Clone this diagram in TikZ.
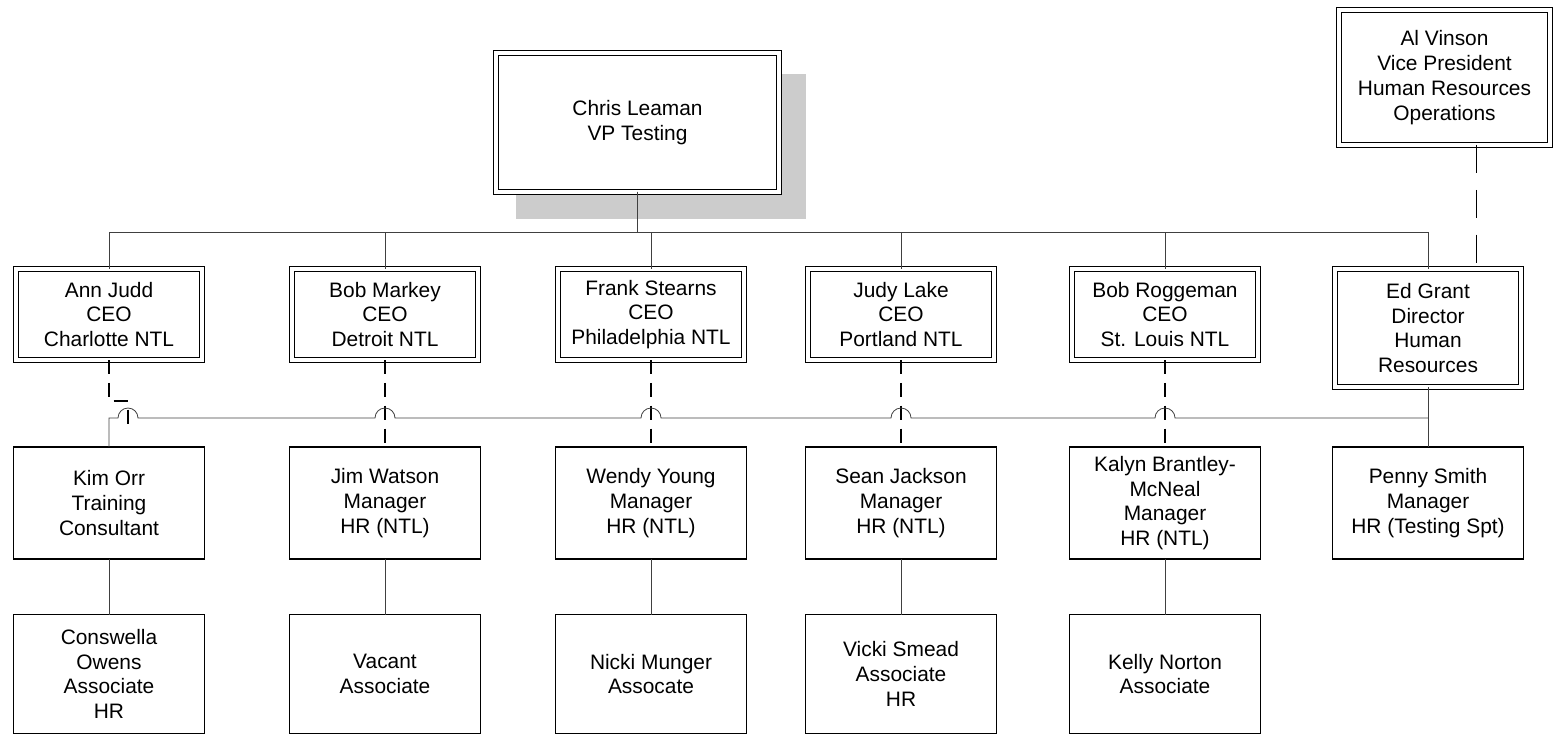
\documentclass[tikz,border=0pt]{standalone}
\usepackage{fontspec}
\setmainfont{Liberation Sans}
\usetikzlibrary{calc,backgrounds}
\tikzset{
	orgbox/.style={draw, line width=0.75pt, align=center, inner sep=2pt, outer sep=0pt,
		font=\fontsize{11.9}{14.1}\selectfont},
	headbox/.style={orgbox, double, line width=0.8pt, double distance=1.8pt},
	ceobox/.style={headbox, minimum width=3.72cm, minimum height=1.82cm},
	hrbox/.style={orgbox, minimum width=3.82cm, minimum height=2.24cm},
	staffbox/.style={orgbox, minimum width=3.82cm, minimum height=2.38cm},
	orgline/.style={draw=black!75, line width=0.45pt},
	ceoline/.style={draw=black, line width=0.8pt, dash pattern=on 8pt off 5pt},
	vpline/.style={draw=black, line width=0.75pt, dash pattern=on 16pt off 9.5pt}
}

\begin{document}
\begin{tikzpicture}[x=0.02cm, y=0.02cm]
	\useasboundingbox (0,0) rectangle (1554,-735);

	\node[headbox, fill=white, minimum width=5.66cm, minimum height=2.78cm] (chris) at (637.5,-122.5) {Chris Leaman\\VP Testing};
	\node[headbox, minimum width=4.22cm, minimum height=2.7cm] (vinson) at (1444.5,-77.5) {Al Vinson\\Vice President\\Human Resources\\Operations};

	\node[ceobox] (ann) at (109,-314.5) {Ann Judd\\CEO\\Charlotte NTL};
	\node[ceobox] (markey) at (385,-314.5) {Bob Markey\\CEO\\Detroit NTL};
	\node[ceobox] (frank) at (651,-314.5) {Frank Stearns\\CEO\\Philadelphia NTL};
	\node[ceobox] (judy) at (901,-314.5) {Judy Lake\\CEO\\Portland NTL};
	\node[ceobox] (roggeman) at (1165,-314.5) {Bob Roggeman\\CEO\\St. Louis NTL};
	\node[headbox, minimum width=3.72cm, minimum height=2.36cm] (edgrant) at (1428,-328) {Ed Grant\\Director\\Human\\Resources};

	\node[hrbox] (kim) at (109,-503) {Kim Orr\\Training\\Consultant};
	\node[hrbox] (jim) at (385,-503) {Jim Watson\\Manager\\HR (NTL)};
	\node[hrbox] (wendy) at (651,-503) {Wendy Young\\Manager\\HR (NTL)};
	\node[hrbox] (sean) at (901,-503) {Sean Jackson\\Manager\\HR (NTL)};
	\node[hrbox] (kalyn) at (1165,-503) {Kalyn Brantley-\\McNeal\\Manager\\HR (NTL)};
	\node[hrbox] (penny) at (1428,-503) {Penny Smith\\Manager\\HR (Testing Spt)};

	\node[staffbox] (conswella) at (109,-674) {Conswella\\Owens\\Associate\\HR};
	\node[staffbox] (vacant) at (385,-674) {Vacant\\Associate};
	\node[staffbox] (nicki) at (651,-674) {Nicki Munger\\Assocate};
	\node[staffbox] (vicki) at (901,-674) {Vicki Smead\\Associate\\HR};
	\node[staffbox] (kelly) at (1165,-674) {Kelly Norton\\Associate};

	\begin{scope}[on background layer]
		\fill[black!20] ($(chris.north west)+(20,-21)$) rectangle ($(chris.south east)+(27,-27)$);
	\end{scope}

	\foreach \n in {ann,markey,frank,judy,roggeman,edgrant}
		\draw[orgline] (chris.south) -- ++(0,-40) -| (\n.north);

	\foreach \a/\b in {kim/conswella,jim/vacant,wendy/nicki,sean/vicki,kalyn/kelly,edgrant/penny}
		\draw[orgline] (\a.south) -- (\b.north);

	\foreach \a/\b in {markey/jim,frank/wendy,judy/sean,roggeman/kalyn}
		\draw[ceoline] (\a.south) -- (\b.north);

	\coordinate (annend) at (128,-427);
	\coordinate (hrbus) at (0,-418);
	\draw[ceoline] (ann.south) -- ++(0,-41) -| (annend);

	\draw[orgline] (edgrant.south |- hrbus)
		\foreach \n in {roggeman,judy,frank,markey,annend} { -- ($(\n |- hrbus)+(10,0)$) arc[start angle=0, end angle=180, radius=10] }
		-- (kim.north |- hrbus) -- (kim.north);

	\draw[vpline] ([xshift=0.64cm]vinson.south) -- ([xshift=0.64cm]vinson.south |- edgrant.north);
\end{tikzpicture}
\end{document}
